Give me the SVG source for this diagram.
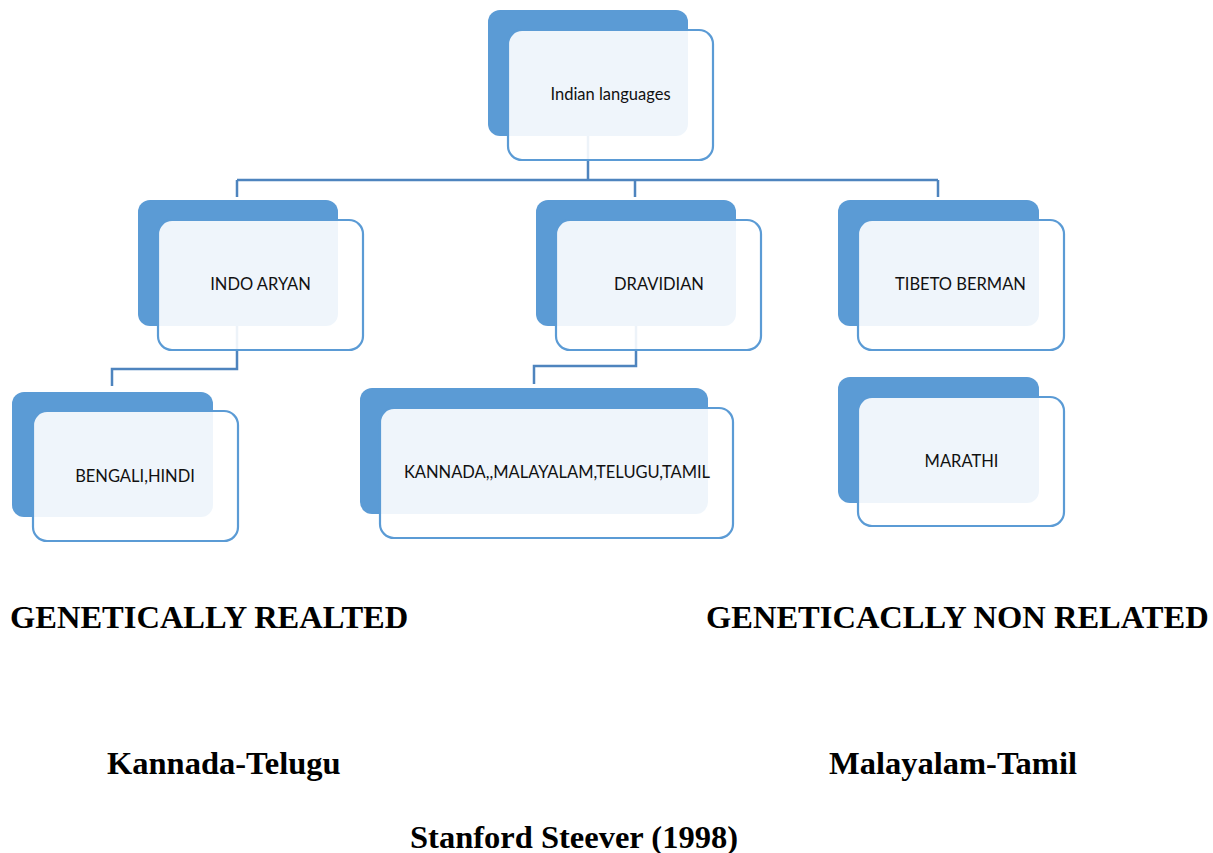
<svg xmlns="http://www.w3.org/2000/svg" width="1213" height="853" viewBox="0 0 1213 853">
<style>
.back{fill:#5B9BD5;}
.front{fill:#FFFFFF;fill-opacity:0.9;stroke:#5B9BD5;stroke-width:2.2;}
.lbl{font-family:Lato,"Open Sans",sans-serif;font-size:16.5px;fill:#111111;text-anchor:middle;}
.con{fill:none;stroke:#4E84BE;stroke-width:2.5;}
.big{font-family:"Liberation Serif","Times New Roman",serif;font-weight:bold;font-size:32.5px;fill:#000;}
</style>
<rect width="1213" height="853" fill="#FFFFFF"/>
<g id="connectors">
<path class="con" d="M588 136 V180 M237 180 H938 M237 180 V197 M635 180 V197 M938 180 V197"/>
<path class="con" d="M237 326 V369 H112 V386"/>
<path class="con" d="M636 326 V366 H534 V384"/>
</g>
<g id="indian-languages">
<rect class="back" x="488" y="10" width="200" height="126" rx="12"/>
<rect class="front" x="508" y="30" width="205" height="130" rx="14"/>
<text class="lbl" x="610.5" y="100">Indian languages</text>
</g>
<g id="indo-aryan">
<rect class="back" x="138" y="200" width="200" height="126" rx="12"/>
<rect class="front" x="158" y="220" width="205" height="130" rx="14"/>
<text class="lbl" x="260.5" y="290">INDO ARYAN</text>
</g>
<g id="dravidian">
<rect class="back" x="536" y="200" width="200" height="126" rx="12"/>
<rect class="front" x="556" y="220" width="205" height="130" rx="14"/>
<text class="lbl" x="659" y="290">DRAVIDIAN</text>
</g>
<g id="tibeto-berman">
<rect class="back" x="838" y="200" width="201" height="126" rx="12"/>
<rect class="front" x="858" y="220" width="206" height="130" rx="14"/>
<text class="lbl" x="960.5" y="290">TIBETO BERMAN</text>
</g>
<g id="bengali-hindi">
<rect class="back" x="12" y="392" width="201" height="125" rx="12"/>
<rect class="front" x="33" y="411" width="205" height="130" rx="14"/>
<text class="lbl" x="135" y="482">BENGALI,HINDI</text>
</g>
<g id="kannada">
<rect class="back" x="360" y="388" width="348" height="126" rx="12"/>
<rect class="front" x="380" y="408" width="353" height="130" rx="14"/>
<text class="lbl" x="557" y="478">KANNADA,,MALAYALAM,TELUGU,TAMIL</text>
</g>
<g id="marathi">
<rect class="back" x="838" y="377" width="201" height="126" rx="12"/>
<rect class="front" x="858" y="397" width="206" height="129" rx="14"/>
<text class="lbl" x="961.5" y="467">MARATHI</text>
</g>
<g id="captions">
<text class="big" x="10" y="628">GENETICALLY REALTED</text>
<text class="big" x="706" y="628">GENETICACLLY NON RELATED</text>
<text class="big" x="107" y="774">Kannada-Telugu</text>
<text class="big" x="829" y="774">Malayalam-Tamil</text>
<text class="big" x="410" y="848">Stanford Steever (1998)</text>
</g>
</svg>
